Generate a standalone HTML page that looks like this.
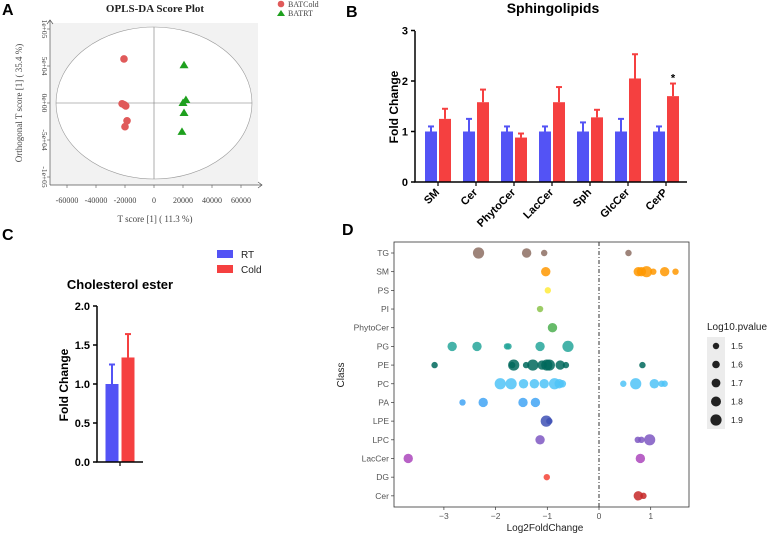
<!DOCTYPE html>
<html><head><meta charset="utf-8"><style>
body{margin:0;background:#fff;}
svg{display:block;}
.ser{font-family:"Liberation Serif",serif;}
.sans{font-family:"Liberation Sans",sans-serif;}
</style></head><body>
<svg id="fig" width="777" height="536" xmlns="http://www.w3.org/2000/svg">
<g class="sans" font-weight="bold" font-size="16">
<text x="2" y="15">A</text>
<text x="346" y="17">B</text>
<text x="2" y="240">C</text>
<text x="342" y="235">D</text>
</g>
<g id="pa"></g>
<g id="pb"></g>
<g id="pc"></g>
<g id="pd"></g>
</svg>
<script>
// ---------- Panel A data ----------
const coldX=[-20700,-22000,-20500,-19500,-18600,-20000];
const coldY=[59500,-1000,-2500,-4000,-24000,-32000];
const rtX=[20700,22000,20000,20700,19300];
const rtY=[51000,4000,0,-13500,-39000];
const aTicksX=[-60000,-40000,-20000,0,20000,40000,60000];
const aTicksY=[100000,50000,0,-50000,-100000];
const aTickYLabels=["1e+05","5e+04","0e+00","-5e+04","-1e+05"];
// ---------- Panel B data ----------
const bCats=["SM","Cer","PhytoCer","LacCer","Sph","GlcCer","CerP"];
const bRT=[1,1,1,1,1,1,1];
const bRTerr=[0.1,0.25,0.1,0.1,0.18,0.25,0.1];
const bCold=[1.25,1.58,0.88,1.58,1.28,2.05,1.7];
const bColdErr=[0.2,0.25,0.08,0.3,0.15,0.48,0.25];
const bTicks=[0,1,2,3];
// ---------- Panel C data ----------
const cVals=[1.0,1.34];
const cErr=[0.25,0.3];
const cTicks=[0,0.5,1.0,1.5,2.0];
// ---------- Panel D data ----------
const dClasses=["TG","SM","PS","PI","PhytoCer","PG","PE","PC","PA","LPE","LPC","LacCer","DG","Cer"];
const dColors=["#8d6e63","#ff9800","#ffeb3b","#8bc34a","#4caf50","#26a69a","#00695c","#4fc3f7","#42a5f5","#3f51b5","#7e57c2","#ab47bc","#f44336","#c62828"];
const dPtClass=["TG","TG","TG","TG","SM","SM","SM","SM","SM","SM","SM","PS","PI","PhytoCer","PG","PG","PG","PG","PG","PG","PE","PE","PE","PE","PE","PE","PE","PE","PE","PE","PE","PC","PC","PC","PC","PC","PC","PC","PC","PC","PC","PC","PC","PC","PA","PA","PA","PA","LPE","LPE","LPC","LPC","LPC","LPC","LacCer","LacCer","DG","Cer","Cer"];
const dPtFC=[-2.33,-1.40,-1.06,0.57,-1.03,0.76,0.82,0.92,1.05,1.27,1.48,-0.99,-1.14,-0.90,-2.84,-2.36,-1.78,-1.75,-1.14,-0.60,-3.18,-1.65,-1.68,-1.41,-1.28,-1.01,-0.96,-1.10,-0.75,-0.64,0.84,-1.91,-1.70,-1.46,-1.25,-1.06,-0.86,-0.77,-0.71,0.47,0.71,1.07,1.21,1.27,-2.64,-2.24,-1.47,-1.23,-1.02,-0.96,-1.14,0.75,0.82,0.98,-3.69,0.80,-1.01,0.76,0.86];
const dPtP=[1.9,1.75,1.5,1.5,1.75,1.75,1.75,1.9,1.5,1.75,1.5,1.5,1.5,1.75,1.75,1.75,1.5,1.5,1.75,1.9,1.5,1.9,1.5,1.5,1.9,1.9,1.9,1.75,1.75,1.5,1.5,1.9,1.9,1.75,1.75,1.75,1.9,1.75,1.6,1.5,1.9,1.75,1.5,1.5,1.5,1.75,1.75,1.75,1.9,1.5,1.75,1.5,1.5,1.9,1.75,1.75,1.5,1.75,1.5];
const dTicks=[-3,-2,-1,0,1];
const dLegVals=[1.5,1.6,1.7,1.8,1.9];

const NS="http://www.w3.org/2000/svg";
function mk(parent,tag,attrs,text){const e=document.createElementNS(NS,tag);for(const k in attrs)e.setAttribute(k,attrs[k]);if(text!==undefined)e.textContent=text;parent.appendChild(e);return e;}

// ===== Panel A =====
(function(){
const g=document.getElementById('pa');
const ax=v=>154+v/20000*29, ay=v=>103-v/100000*74;
let e=mk(g,'rect',{x:50,y:23,width:208,height:162,fill:'#f2f2f2'});

e=mk(g,'ellipse',{cx:ax(0),cy:ay(0),rx:98,ry:76,fill:'#fff',stroke:'#999','stroke-width':0.6});

mk(g,'line',{x1:56,x2:252,y1:ay(0),y2:ay(0),stroke:'#777','stroke-width':0.6});
mk(g,'line',{x1:ax(0),x2:ax(0),y1:27,y2:179,stroke:'#777','stroke-width':0.6});
e=mk(g,'path',{d:'M50,185H262M258,182L262,185L258,188',fill:'none',stroke:'#555','stroke-width':0.7});

e=mk(g,'path',{d:'M50,185V20M47,24L50,20L53,24',fill:'none',stroke:'#555','stroke-width':0.7});

aTicksX.forEach(v=>{mk(g,'line',{x1:ax(v),x2:ax(v),y1:185,y2:188,stroke:'#555','stroke-width':0.6});
 e=mk(g,'text',{x:ax(v),y:203,'font-size':8,'text-anchor':'middle',fill:'#444',class:'ser'},String(v));
 });
aTicksY.forEach((v,i)=>{mk(g,'line',{x1:47,x2:50,y1:ay(v),y2:ay(v),stroke:'#555','stroke-width':0.6});
 e=mk(g,'text',{x:0,y:0,'font-size':7.5,'text-anchor':'middle',fill:'#444',class:'ser',transform:`translate(42,${ay(v)}) rotate(90)`},aTickYLabels[i]);
 });
e=mk(g,'text',{x:155,y:222,'font-size':9,'text-anchor':'middle',fill:'#444',class:'ser'},'T score [1] ( 11.3 %)');

e=mk(g,'text',{x:0,y:0,'font-size':9,'text-anchor':'middle',fill:'#444',class:'ser',transform:'translate(22,103) rotate(-90)'},'Orthogonal T score [1] ( 35.4 %)');

e=mk(g,'text',{x:155,y:12,'font-size':11,'font-weight':'bold','text-anchor':'middle',fill:'#222',class:'ser'},'OPLS-DA Score Plot');

coldX.forEach((v,i)=>{e=mk(g,'circle',{cx:ax(v),cy:ay(coldY[i]),r:3.8,fill:'#e05a5a'});
 });
rtX.forEach((v,i)=>{const x=ax(v),y=ay(rtY[i]);e=mk(g,'path',{d:`M${x},${y-4.5}L${x+4.5},${y+3}L${x-4.5},${y+3}Z`,fill:'#1ea01e'});
 });
e=mk(g,'circle',{cx:281,cy:4,r:3.3,fill:'#e05a5a'});
e=mk(g,'text',{x:288,y:7,'font-size':8,fill:'#444',class:'ser'},'BATCold');
e=mk(g,'path',{d:'M281,10L285,16L277,16Z',fill:'#1ea01e'});
e=mk(g,'text',{x:288,y:16,'font-size':8,fill:'#444',class:'ser'},'BATRT');
})();

// ===== Panel B =====
(function(){
const g=document.getElementById('pb');
const by=v=>182-v*50.5, gx=i=>438+i*38;
let e;
bCats.forEach((c,i)=>{
 [[bRT[i],bRTerr[i],-7,'#5353f5'],[bCold[i],bColdErr[i],7,'#f54040']].forEach(([v,er,off,col],k)=>{
  const cx=gx(i)+off;
  mk(g,'line',{x1:cx,x2:cx,y1:by(v),y2:by(v+er),stroke:col,'stroke-width':2});
  mk(g,'line',{x1:cx-3,x2:cx+3,y1:by(v+er),y2:by(v+er),stroke:col,'stroke-width':2});
  e=mk(g,'rect',{x:cx-6,y:by(v),width:12,height:by(0)-by(v),fill:col});
  
 });
 mk(g,'line',{x1:gx(i),x2:gx(i),y1:182,y2:186,stroke:'#000','stroke-width':1.2});
 e=mk(g,'text',{x:0,y:0,'font-size':11,'font-weight':'bold','text-anchor':'end',class:'sans',transform:`translate(${gx(i)+2},193) rotate(-45)`},c);
 
});
e=mk(g,'path',{d:'M415,31V182H687',fill:'none',stroke:'#000','stroke-width':1.5});

bTicks.forEach(v=>{mk(g,'line',{x1:411,x2:415,y1:by(v),y2:by(v),stroke:'#000','stroke-width':1.5});
 e=mk(g,'text',{x:408,y:by(v)+4,'font-size':11,'font-weight':'bold','text-anchor':'end',class:'sans'},String(v));
 });
e=mk(g,'text',{x:0,y:0,'font-size':12,'font-weight':'bold','text-anchor':'middle',class:'sans',transform:'translate(398,107) rotate(-90)'},'Fold Change');

e=mk(g,'text',{x:553,y:13,'font-size':14,'font-weight':'bold','text-anchor':'middle',class:'sans'},'Sphingolipids');

e=mk(g,'text',{x:gx(6)+7,y:by(bCold[6]+bColdErr[6])-2,'font-size':11,'font-weight':'bold','text-anchor':'middle',class:'sans'},'*');

})();

// ===== Panel C =====
(function(){
const g=document.getElementById('pc');
const cy=v=>462-v*78;const cols=['#5353f5','#f54040'];const xs=[112,128];
let e;
cVals.forEach((v,i)=>{const cx=xs[i],col=cols[i],t=cy(v+cErr[i]);
 mk(g,'line',{x1:cx,x2:cx,y1:cy(v),y2:t,stroke:col,'stroke-width':2});
 mk(g,'line',{x1:cx-3,x2:cx+3,y1:t,y2:t,stroke:col,'stroke-width':2});
 e=mk(g,'rect',{x:cx-6.5,y:cy(v),width:13,height:cy(0)-cy(v),fill:col});
 });
e=mk(g,'path',{d:'M97,306V462H143',fill:'none',stroke:'#000','stroke-width':1.5});

mk(g,'line',{x1:120,x2:120,y1:462,y2:466,stroke:'#000','stroke-width':1.2});
cTicks.forEach(v=>{mk(g,'line',{x1:93,x2:97,y1:cy(v),y2:cy(v),stroke:'#000','stroke-width':1.5});
 e=mk(g,'text',{x:90,y:cy(v)+4,'font-size':11,'font-weight':'bold','text-anchor':'end',class:'sans'},v.toFixed(1));
 });
e=mk(g,'text',{x:0,y:0,'font-size':12,'font-weight':'bold','text-anchor':'middle',class:'sans',transform:'translate(68,385) rotate(-90)'},'Fold Change');

e=mk(g,'text',{x:120,y:289,'font-size':13,'font-weight':'bold','text-anchor':'middle',class:'sans'},'Cholesterol ester');

e=mk(g,'rect',{x:217,y:250,width:16,height:8,fill:'#5353f5'});
e=mk(g,'text',{x:241,y:258,'font-size':10,class:'sans',fill:'#222'},'RT');
e=mk(g,'rect',{x:217,y:265,width:16,height:8,fill:'#f54040'});
e=mk(g,'text',{x:241,y:273,'font-size':10,class:'sans',fill:'#222'},'Cold');
})();

// ===== Panel D =====
(function(){
const g=document.getElementById('pd');
const dx=v=>599+v*51.7, dy=c=>253+dClasses.indexOf(c)*18.68, rr=p=>3.2+(p-1.5)*6;
let e;
dTicks.forEach(v=>{mk(g,'line',{x1:dx(v),x2:dx(v),y1:507,y2:510,stroke:'#333','stroke-width':0.7});
 e=mk(g,'text',{x:dx(v),y:519,'font-size':8.5,'text-anchor':'middle',fill:'#555',class:'sans'},v<0?'\u2212'+Math.abs(v):String(v));
 });
dClasses.forEach(c=>{mk(g,'line',{x1:391,x2:394,y1:dy(c),y2:dy(c),stroke:'#333','stroke-width':0.7});
 e=mk(g,'text',{x:389,y:dy(c)+3,'font-size':8.5,'text-anchor':'end',fill:'#555',class:'sans'},c);
 });
e=mk(g,'line',{x1:dx(0),x2:dx(0),y1:242,y2:507,stroke:'#333','stroke-width':1,'stroke-dasharray':'4,2,1,2'});

dPtFC.forEach((v,i)=>{const c=dPtClass[i];
 e=mk(g,'circle',{cx:dx(v),cy:dy(c),r:rr(dPtP[i]),fill:dColors[dClasses.indexOf(c)],'fill-opacity':0.85});
 });
e=mk(g,'rect',{x:394,y:242,width:295,height:265,fill:'none',stroke:'#333','stroke-width':0.8});

e=mk(g,'text',{x:545,y:531,'font-size':10,'text-anchor':'middle',fill:'#222',class:'sans'},'Log2FoldChange');

e=mk(g,'text',{x:0,y:0,'font-size':10,'text-anchor':'middle',fill:'#222',class:'sans',transform:'translate(344,375) rotate(-90)'},'Class');

e=mk(g,'text',{x:707,y:330,'font-size':10,fill:'#222',class:'sans'},'Log10.pvalue');

mk(g,'rect',{x:707,y:337,width:18,height:92,fill:'#ececec'});
dLegVals.forEach((v,i)=>{const y=346+i*18.5;
 e=mk(g,'circle',{cx:716,cy:y,r:rr(v),fill:'#222'});
 e=mk(g,'text',{x:731,y:y+3,'font-size':8.5,fill:'#222',class:'sans'},v.toFixed(1));});
})();
</script>
</body></html>
